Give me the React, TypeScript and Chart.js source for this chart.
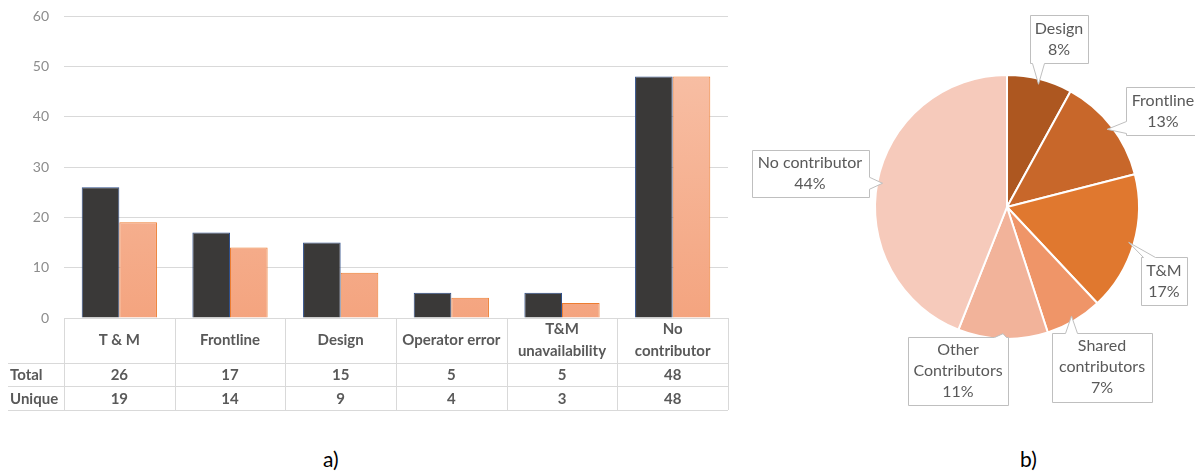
import React, { useEffect, useRef } from "react";
import { Chart, registerables } from "chart.js";

Chart.register(...registerables);

// ---- bar chart + data table ----
const categories: string[][] = [
  ["T & M"],
  ["Frontline"],
  ["Design"],
  ["Operator error"],
  ["T&M", "unavailability"],
  ["No", "contributor"],
];
const totalCounts = [26, 17, 15, 5, 5, 48];
const uniqueCounts = [19, 14, 9, 4, 3, 48];
const tableRows = ["Total", "Unique"];
const yMax = 60;
const yStep = 10;

// ---- pie chart ----
const pieLabels: string[][] = [
  ["Design"],
  ["Frontline"],
  ["T&M"],
  ["Shared", "contributors"],
  ["Other", "Contributors"],
  ["No contributor"],
];
const pieShares = [8, 13, 17, 7, 11, 44];
const pieColors = ["#AD5720", "#C8672A", "#E0782F", "#EF9568", "#F2B39A", "#F6CABB"];

// callout box centres relative to the pie centre, and box sizes
const calloutOffsets = [
  [52, -168],
  [156, -96],
  [157, 74],
  [95, 160],
  [-49, 164],
  [-197, -34],
];
const calloutSizes = [
  [58, 48],
  [74, 48],
  [46, 48],
  [100, 69],
  [100, 68],
  [117, 47],
];

const FONT = "Lato, 'Open Sans', sans-serif";
const TEXT = "#595959";
const LINE = "#D9D9D9";

const dataTablePlugin = {
  id: "dataTable",
  afterDraw(chart: any) {
    const { ctx, chartArea, scales } = chart;
    const x = scales.x;
    const n = categories.length;
    const w = (chartArea.right - chartArea.left) / n;
    const top = Math.round(chartArea.bottom);
    const rows = [top, top + 45, top + 68, top + 92];
    ctx.save();
    ctx.strokeStyle = LINE;
    ctx.lineWidth = 1;
    ctx.beginPath();
    for (let r = 1; r < rows.length; r++) {
      ctx.moveTo(8, rows[r] + 0.5);
      ctx.lineTo(chartArea.right, rows[r] + 0.5);
    }
    for (let i = 0; i <= n; i++) {
      const xx = Math.round(chartArea.left + i * w) + 0.5;
      ctx.moveTo(xx, top);
      ctx.lineTo(xx, rows[3]);
    }
    ctx.stroke();

    ctx.fillStyle = TEXT;
    ctx.textAlign = "center";
    ctx.textBaseline = "middle";
    ctx.font = `bold 15px ${FONT}`;
    categories.forEach((lines, i) => {
      const cx = x.getPixelForValue(i);
      const cy = (rows[0] + rows[1]) / 2;
      const lh = 22;
      lines.forEach((t, k) => {
        ctx.fillText(t, cx, cy + (k - (lines.length - 1) / 2) * lh);
      });
      ctx.fillText(String(totalCounts[i]), cx, (rows[1] + rows[2]) / 2 + 1);
      ctx.fillText(String(uniqueCounts[i]), cx, (rows[2] + rows[3]) / 2 + 1);
    });
    ctx.textAlign = "left";
    tableRows.forEach((t, r) => {
      ctx.fillText(t, 10, (rows[r + 1] + rows[r + 2]) / 2 + 1);
    });
    ctx.restore();
  },
};

const calloutPlugin = {
  id: "callouts",
  afterDraw(chart: any) {
    const { ctx } = chart;
    const arcs = chart.getDatasetMeta(0).data;
    ctx.save();
    arcs.forEach((arc: any, i: number) => {
      const { x: cx, y: cy, outerRadius, startAngle, endAngle } = arc.getProps(
        ["x", "y", "outerRadius", "startAngle", "endAngle"],
        true
      );
      const mid = (startAngle + endAngle) / 2;
      const ax = cx + Math.cos(mid) * outerRadius * 0.96;
      const ay = cy + Math.sin(mid) * outerRadius * 0.96;
      const [ox, oy] = calloutOffsets[i];
      const [bw, bh] = calloutSizes[i];
      const bx = Math.round(cx + ox - bw / 2) + 0.5;
      const by = Math.round(cy + oy - bh / 2) + 0.5;
      const right = bx + bw;
      const bottom = by + bh;

      // decide which side of the box the pointer leaves from
      let side: string;
      if (ay > bottom) side = "bottom";
      else if (ay < by) side = "top";
      else if (ax < bx) side = "left";
      else side = "right";
      const half = 6;
      const clamp = (v: number, lo: number, hi: number) => Math.max(lo, Math.min(hi, v));

      const pts: number[][] = [];
      if (side === "top") {
        const m = clamp(ax, bx + half + 2, right - half - 2);
        pts.push([bx, by], [m - half, by], [ax, ay], [m + half, by], [right, by], [right, bottom], [bx, bottom]);
      } else if (side === "right") {
        const m = clamp(ay, by + half + 2, bottom - half - 2);
        pts.push([bx, by], [right, by], [right, m - half], [ax, ay], [right, m + half], [right, bottom], [bx, bottom]);
      } else if (side === "bottom") {
        const m = clamp(ax, bx + half + 2, right - half - 2);
        pts.push([bx, by], [right, by], [right, bottom], [m + half, bottom], [ax, ay], [m - half, bottom], [bx, bottom]);
      } else {
        const m = clamp(ay, by + half + 2, bottom - half - 2);
        pts.push([bx, by], [right, by], [right, bottom], [bx, bottom], [bx, m + half], [ax, ay], [bx, m - half]);
      }
      ctx.beginPath();
      pts.forEach((p, k) => (k === 0 ? ctx.moveTo(p[0], p[1]) : ctx.lineTo(p[0], p[1])));
      ctx.closePath();
      ctx.fillStyle = "#FFFFFF";
      ctx.fill();
      ctx.strokeStyle = "#BFBFBF";
      ctx.lineWidth = 1;
      ctx.stroke();

      const lines = [...pieLabels[i], `${pieShares[i]}%`];
      ctx.fillStyle = TEXT;
      ctx.font = `16px ${FONT}`;
      ctx.textAlign = "center";
      ctx.textBaseline = "middle";
      const lh = 21;
      const tcx = cx + ox;
      const tcy = cy + oy;
      lines.forEach((t, k) => {
        ctx.fillText(t, tcx, tcy + (k - (lines.length - 1) / 2) * lh);
      });
    });
    ctx.restore();
  },
};

function BarTable() {
  const ref = useRef<HTMLCanvasElement>(null);
  useEffect(() => {
    const canvas = ref.current!;
    const ctx = canvas.getContext("2d")!;
    const grad = ctx.createLinearGradient(0, 16, 0, 318);
    grad.addColorStop(0, "#F8C4AC");
    grad.addColorStop(1, "#F4A47F");
    const chart = new Chart(canvas, {
      type: "bar",
      data: {
        labels: categories.map((c) => c.join(" ")),
        datasets: [
          {
            label: "Total",
            data: totalCounts,
            backgroundColor: "#3A3938",
            borderColor: "#2F4F8A",
            borderWidth: 1,
          },
          {
            label: "Unique",
            data: uniqueCounts,
            backgroundColor: grad,
            borderColor: "#ED7D31",
            borderWidth: 1,
          },
        ],
      },
      options: {
        responsive: false,
        animation: false,
        layout: { padding: { top: 16, right: 12, bottom: 102, left: 0 } },
        datasets: { bar: { categoryPercentage: 0.68, barPercentage: 1.0 } },
        plugins: { legend: { display: false }, tooltip: { enabled: false } },
        scales: {
          x: { display: false },
          y: {
            min: 0,
            max: yMax,
            ticks: {
              stepSize: yStep,
              color: "#8C8C8C",
              padding: 0,
              font: { family: FONT, size: 14 },
            },
            grid: { color: LINE, drawTicks: true, tickLength: 15, tickColor: "rgba(0,0,0,0)" },
            border: { display: false },
            afterFit: (s: any) => {
              s.width = 64;
            },
          },
        },
      },
      plugins: [dataTablePlugin],
    });
    return () => chart.destroy();
  }, []);
  return <canvas ref={ref} width={740} height={420} style={{ position: "absolute", left: 0, top: 0, width: 740, height: 420 }} />;
}

function ContributorPie() {
  const ref = useRef<HTMLCanvasElement>(null);
  useEffect(() => {
    const chart = new Chart(ref.current!, {
      type: "pie",
      data: {
        labels: pieLabels.map((l) => l.join(" ")),
        datasets: [
          {
            data: pieShares,
            backgroundColor: pieColors,
            borderColor: "#FFFFFF",
            borderWidth: 2,
          },
        ],
      },
      options: {
        responsive: false,
        animation: false,
        layout: { padding: { left: 134, right: 55, top: 74, bottom: 80 } },
        plugins: { legend: { display: false }, tooltip: { enabled: false } },
      },
      plugins: [calloutPlugin],
    });
    return () => chart.destroy();
  }, []);
  return <canvas ref={ref} width={455} height={420} style={{ position: "absolute", left: 740, top: 0, width: 455, height: 420 }} />;
}

export default function App() {
  const caption: React.CSSProperties = {
    position: "absolute",
    top: 446,
    fontFamily: FONT,
    fontSize: 21,
    color: "#000",
  };
  return (
    <div style={{ position: "absolute", left: 0, top: 0, width: 1195, height: 474, background: "#fff", overflow: "hidden" }}>
      <BarTable />
      <ContributorPie />
      <div style={{ ...caption, left: 323 }}>a)</div>
      <div style={{ ...caption, left: 1020 }}>b)</div>
    </div>
  );
}
